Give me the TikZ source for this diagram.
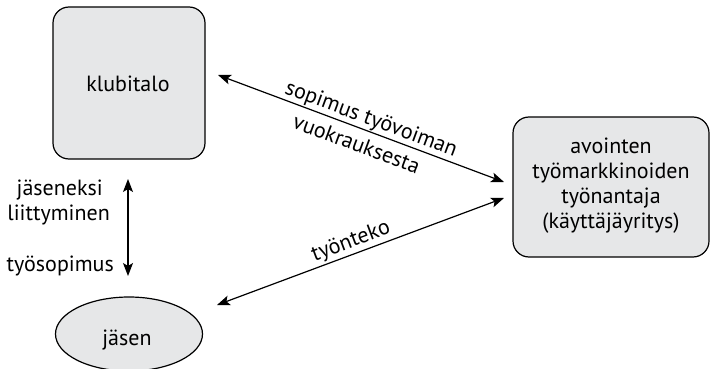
\documentclass[tikz,border=0pt]{standalone}
\usepackage{fontspec}
\setmainfont{PT Sans}
\usetikzlibrary{arrows.meta,shapes.geometric}
\definecolor{boxfill}{HTML}{E6E7E8}
\begin{document}
\begin{tikzpicture}[x=1pt,y=-1pt,
  every node/.style={font=\fontsize{22}{25}\selectfont, inner sep=0pt},
  party/.style={draw, line width=1.2pt, fill=boxfill, rounded corners=16pt},
  link/.style={line width=1.2pt, {Stealth[length=13pt,width=10pt,inset=3pt]}-{Stealth[length=13pt,width=10pt,inset=3pt]}}]
  \useasboundingbox (0,0) rectangle (710,369);
  % parties
  \node[party, minimum width=152pt, minimum height=152pt] (club) at (129,83) {};
  \node[anchor=base] (clubtxt) at (128,92) {klubitalo};
  \node[party, minimum width=196pt, minimum height=140pt] (emp) at (611,187) {};
  \node[anchor=base] (emp1) at (611,153) {avointen};
  \node[anchor=base] (emp2) at (611,178) {työmarkkinoiden};
  \node[anchor=base] (emp3) at (611,203) {työnantaja};
  \node[anchor=base] (emp4) at (611,228) {(käyttäjäyritys)};
  \node[draw, line width=1.2pt, fill=boxfill, ellipse, minimum width=147pt, minimum height=74pt] (mem) at (129,334) {};
  \node[anchor=base] (memtxt) at (127,345) {jäsen};
  % connector ends
  \coordinate (c1) at (218,75);
  \coordinate (e1) at (504,182);
  \coordinate (e2) at (504,198);
  \coordinate (m1) at (217,305);
  \coordinate (v1) at (128,179);
  \coordinate (v2) at (128,276);
  \draw[link] (c1) -- (e1);
  \draw[link] (m1) -- (e2);
  \draw[link] (v1) -- (v2);
  % labels along the connectors
  \node[rotate=-20.4, anchor=base] (l1) at (369,125) {sopimus työvoiman};
  \node[rotate=-20.4, anchor=base] (l2) at (354,151) {vuokrauksesta};
  \node[rotate=20.5, anchor=base] (l3) at (353,247) {työnteko};
  \node[anchor=base east] (l4) at (103,195) {jäseneksi};
  \node[anchor=base east] (l5) at (110,220) {liittyminen};
  \node[anchor=base east] (l6) at (114,271) {työsopimus};
\end{tikzpicture}
\end{document}
